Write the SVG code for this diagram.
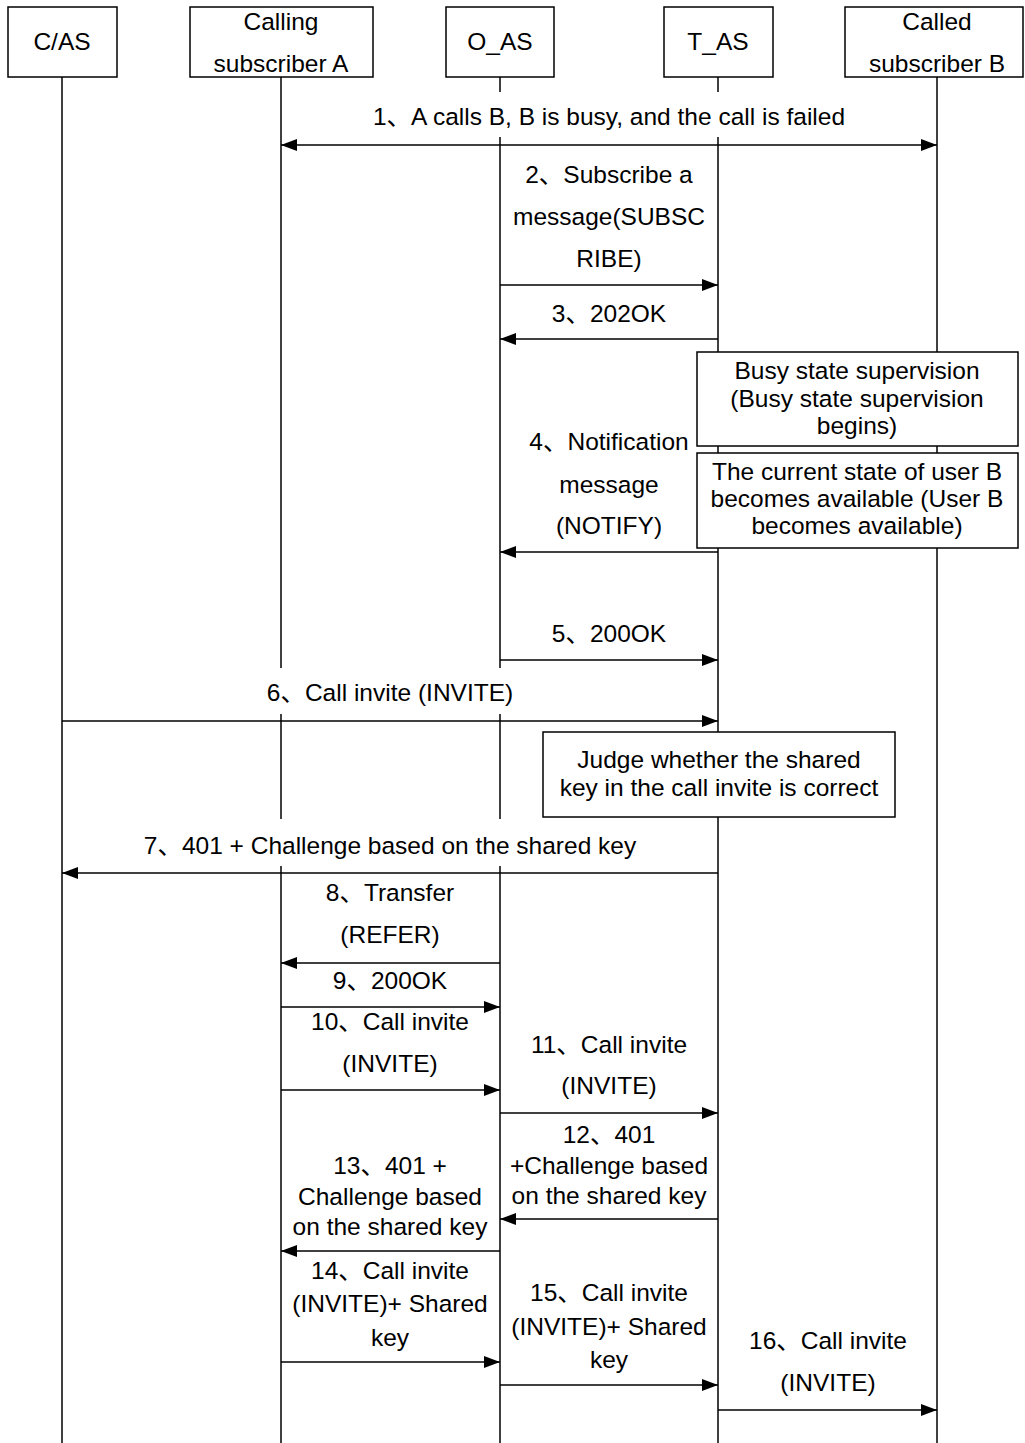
<svg xmlns="http://www.w3.org/2000/svg" width="1025" height="1443" viewBox="0 0 1025 1443">
<style>
text { font-family: "Liberation Sans", "Noto Sans CJK SC", sans-serif; font-size: 24.5px; fill: #000; text-anchor: middle; }
.box { fill: #fff; stroke: #000; stroke-width: 1.5; }
.life { stroke: #000; stroke-width: 1.5; fill: none; }
.msg { stroke: #000; stroke-width: 1.7; fill: none; marker-end: url(#ah); }
.bg { fill: #fff; stroke: none; }
</style>
<defs>
<marker id="ah" viewBox="0 0 16 12" refX="16" refY="6" markerWidth="16" markerHeight="12" markerUnits="userSpaceOnUse" orient="auto-start-reverse">
<path d="M0,0 L16,6 L0,12 Z" fill="#000"/>
</marker>
</defs>
<rect width="1025" height="1443" fill="#fff"/>

<g id="participants">
<g id="cas">
<line class="life" x1="62" y1="77" x2="62" y2="1443"/>
<rect class="box" x="8" y="7" width="109" height="70"/>
<text x="62" y="50">C/AS</text>
</g>
<g id="callingA">
<line class="life" x1="281" y1="77" x2="281" y2="1443"/>
<rect class="box" x="190" y="7" width="183" height="70"/>
<text x="281" y="30">Calling</text>
<text x="281" y="72">subscriber A</text>
</g>
<g id="oas">
<line class="life" x1="500" y1="77" x2="500" y2="1443"/>
<rect class="box" x="446" y="7" width="108" height="70"/>
<text x="500" y="50">O_AS</text>
</g>
<g id="tas">
<line class="life" x1="718" y1="77" x2="718" y2="1443"/>
<rect class="box" x="664" y="7" width="109" height="70"/>
<text x="718" y="50">T_AS</text>
</g>
<g id="calledB">
<line class="life" x1="937" y1="77" x2="937" y2="1443"/>
<rect class="box" x="845" y="7" width="178" height="70"/>
<text x="937" y="30">Called</text>
<text x="937" y="72">subscriber B</text>
</g>
</g>

<g id="connectors">
<g id="m1">
<rect class="bg" x="360" y="92" width="498" height="45"/>
<text x="609" y="125">1、A calls B, B is busy, and the call is failed</text>
<line class="msg" x1="281" y1="145" x2="937" y2="145" marker-start="url(#ah)"/>
</g>
<g id="m2">
<text x="609" y="183">2、Subscribe a</text>
<text x="609" y="225">message(SUBSC</text>
<text x="609" y="267">RIBE)</text>
<line class="msg" x1="500" y1="285" x2="718" y2="285"/>
</g>
<g id="m3">
<text x="609" y="322">3、202OK</text>
<line class="msg" x1="718" y1="339" x2="500" y2="339"/>
</g>
<g id="m4">
<text x="609" y="450">4、Notification</text>
<text x="609" y="493">message</text>
<text x="609" y="534">(NOTIFY)</text>
<line class="msg" x1="718" y1="552" x2="500" y2="552"/>
</g>
<g id="m5">
<text x="609" y="642">5、200OK</text>
<line class="msg" x1="500" y1="660" x2="718" y2="660"/>
</g>
<g id="m6">
<rect class="bg" x="258" y="668" width="264" height="46"/>
<text x="390" y="701">6、Call invite (INVITE)</text>
<line class="msg" x1="62" y1="721" x2="718" y2="721"/>
</g>
<g id="m7">
<rect class="bg" x="132" y="819" width="516" height="47"/>
<text x="390" y="854">7、401 + Challenge based on the shared key</text>
<line class="msg" x1="718" y1="873" x2="62" y2="873"/>
</g>
<g id="m8">
<text x="390" y="901">8、Transfer</text>
<text x="390" y="943">(REFER)</text>
<line class="msg" x1="500" y1="963" x2="281" y2="963"/>
</g>
<g id="m9">
<text x="390" y="989">9、200OK</text>
<line class="msg" x1="281" y1="1007" x2="500" y2="1007"/>
</g>
<g id="m10">
<text x="390" y="1030">10、Call invite</text>
<text x="390" y="1072">(INVITE)</text>
<line class="msg" x1="281" y1="1090" x2="500" y2="1090"/>
</g>
<g id="m11">
<text x="609" y="1053">11、Call invite</text>
<text x="609" y="1094">(INVITE)</text>
<line class="msg" x1="500" y1="1113" x2="718" y2="1113"/>
</g>
<g id="m12">
<text x="609" y="1143">12、401</text>
<text x="609" y="1174">+Challenge based</text>
<text x="609" y="1204">on the shared key</text>
<line class="msg" x1="718" y1="1219" x2="500" y2="1219"/>
</g>
<g id="m13">
<text x="390" y="1174">13、401 +</text>
<text x="390" y="1205">Challenge based</text>
<text x="390" y="1235">on the shared key</text>
<line class="msg" x1="500" y1="1251" x2="281" y2="1251"/>
</g>
<g id="m14">
<text x="390" y="1279">14、Call invite</text>
<text x="390" y="1312">(INVITE)+ Shared</text>
<text x="390" y="1346">key</text>
<line class="msg" x1="281" y1="1362" x2="500" y2="1362"/>
</g>
<g id="m15">
<text x="609" y="1301">15、Call invite</text>
<text x="609" y="1335">(INVITE)+ Shared</text>
<text x="609" y="1368">key</text>
<line class="msg" x1="500" y1="1385" x2="718" y2="1385"/>
</g>
<g id="m16">
<text x="828" y="1349">16、Call invite</text>
<text x="828" y="1391">(INVITE)</text>
<line class="msg" x1="718" y1="1410" x2="937" y2="1410"/>
</g>
</g>

<g id="note-busy">
<rect class="box" x="697" y="352" width="321" height="94"/>
<text x="857" y="379">Busy state supervision</text>
<text x="857" y="407">(Busy state supervision</text>
<text x="857" y="434">begins)</text>
</g>
<g id="note-available">
<rect class="box" x="697" y="453" width="321" height="95"/>
<text x="857" y="480">The current state of user B</text>
<text x="857" y="507">becomes available (User B</text>
<text x="857" y="534">becomes available)</text>
</g>
<g id="note-judge">
<rect class="box" x="543" y="732" width="352" height="85"/>
<text x="719" y="768">Judge whether the shared</text>
<text x="719" y="796">key in the call invite is correct</text>
</g>
</svg>
